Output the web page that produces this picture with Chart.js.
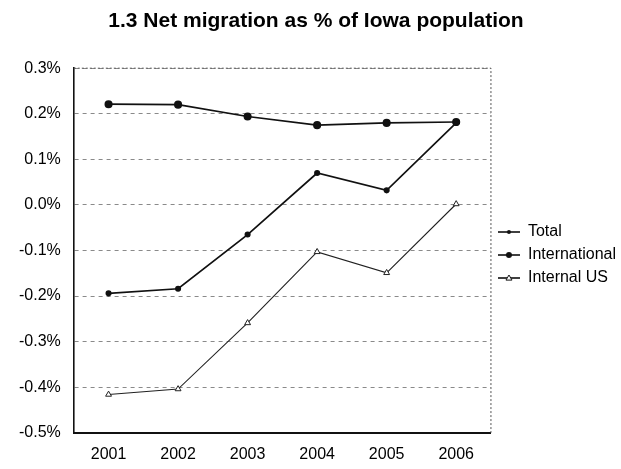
<!DOCTYPE html>
<html>
<head>
<meta charset="utf-8">
<script src="https://cdn.jsdelivr.net/npm/chart.js@4/dist/chart.umd.min.js"></script>
<style>
  html, body { margin: 0; padding: 0; background: #fff; }
  #wrap { width: 621px; height: 469px; }
</style>
</head>
<body>
<div id="wrap"><canvas id="chart"></canvas></div>
<script>
// values (percent of population)
const years = ['2001', '2002', '2003', '2004', '2005', '2006'];
const total = [-0.194, -0.184, -0.065, 0.070, 0.032, 0.180];
const international = [0.221, 0.220, 0.194, 0.175, 0.180, 0.182];
const internalUS = [-0.416, -0.404, -0.259, -0.103, -0.149, 0.002];
const yTicks = [0.3, 0.2, 0.1, 0.0, -0.1, -0.2, -0.3, -0.4, -0.5];

// little legend icons: line with the marker in the middle
function legendIcon(style, r) {
    const c = document.createElement('canvas');
    c.width = 22; c.height = 12;
    const g = c.getContext('2d');
    g.strokeStyle = '#111';
    g.fillStyle = '#111';
    g.lineWidth = 1.6;
    g.beginPath(); g.moveTo(0, 6); g.lineTo(22, 6); g.stroke();
    if (style === 'circle') {
        g.beginPath(); g.arc(11, 6, r, 0, Math.PI * 2); g.fill();
    } else {
        g.fillStyle = '#fff';
        g.lineWidth = 1;
        g.beginPath();
        g.moveTo(11, 6 - r); g.lineTo(11 + r, 6 + r * 0.7); g.lineTo(11 - r, 6 + r * 0.7);
        g.closePath(); g.fill(); g.stroke();
    }
    return c;
}
const icons = [legendIcon('circle', 2), legendIcon('circle', 3), legendIcon('triangle', 3)];

const frame = {
    id: 'frame',
    afterDraw(chart) {
        const a = chart.chartArea, ctx = chart.ctx;
        ctx.save();
        ctx.strokeStyle = '#555';
        ctx.lineWidth = 1;
        ctx.setLineDash([2, 2]);
        ctx.beginPath();
        ctx.moveTo(a.left, a.top); ctx.lineTo(a.right, a.top); ctx.lineTo(a.right, a.bottom);
        ctx.stroke();
        ctx.restore();
    }
};

const font = 'Liberation Sans, Arial, sans-serif';

new Chart(document.getElementById('chart'), {
    type: 'line',
    data: {
        labels: years,
        datasets: [
            {
                label: 'Total',
                data: total,
                borderColor: '#111',
                backgroundColor: '#111',
                borderWidth: 1.7,
                pointStyle: 'circle',
                pointRadius: 2.2,
                tension: 0
            },
            {
                label: 'International',
                data: international,
                borderColor: '#111',
                backgroundColor: '#111',
                borderWidth: 1.7,
                pointStyle: 'circle',
                pointRadius: 3.2,
                tension: 0
            },
            {
                label: 'Internal US',
                data: internalUS,
                borderColor: '#222',
                backgroundColor: '#fff',
                borderWidth: 1.1,
                pointStyle: 'triangle',
                pointRadius: 3.4,
                pointBorderWidth: 1,
                tension: 0
            }
        ]
    },
    options: {
        responsive: true,
        maintainAspectRatio: false,
        animation: false,
        layout: { padding: { left: 6, right: -5, top: 0, bottom: -7 } },
        plugins: {
            title: {
                display: true,
                text: '1.3 Net migration as % of Iowa population',
                color: '#000',
                font: { family: font, size: 21, weight: 'bold' },
                padding: { top: 9, bottom: 34 }
            },
            legend: {
                position: 'right',
                align: 'center',
                // empty legend title only pushes the entries down a little
                title: { display: true, text: ' ', font: { size: 10 }, padding: { top: 22, bottom: 0 } },
                labels: {
                    color: '#000',
                    font: { family: font, size: 16 },
                    usePointStyle: true,
                    pointStyleWidth: 22,
                    padding: 7,
                    generateLabels(chart) {
                        const items = Chart.defaults.plugins.legend.labels.generateLabels(chart);
                        items.forEach((it, i) => { it.pointStyle = icons[i]; });
                        return items;
                    }
                }
            },
            tooltip: { enabled: false }
        },
        scales: {
            x: {
                offset: true,
                grid: { display: false, drawTicks: false },
                border: { color: '#111', width: 2 },
                ticks: {
                    color: '#000',
                    padding: 12,
                    font: { family: font, size: 16 }
                }
            },
            y: {
                min: -0.5,
                max: 0.3,
                afterBuildTicks(axis) { axis.ticks = yTicks.map(v => ({ value: v })); },
                grid: {
                    color: '#8a8a8a',
                    lineWidth: 1,
                    drawTicks: false
                },
                border: { color: '#111', width: 1.6, dash: [4, 4] },
                ticks: {
                    color: '#000',
                    padding: 13,
                    font: { family: font, size: 16 },
                    callback: v => v.toFixed(1) + '%'
                }
            }
        }
    },
    plugins: [frame]
});
</script>
</body>
</html>
